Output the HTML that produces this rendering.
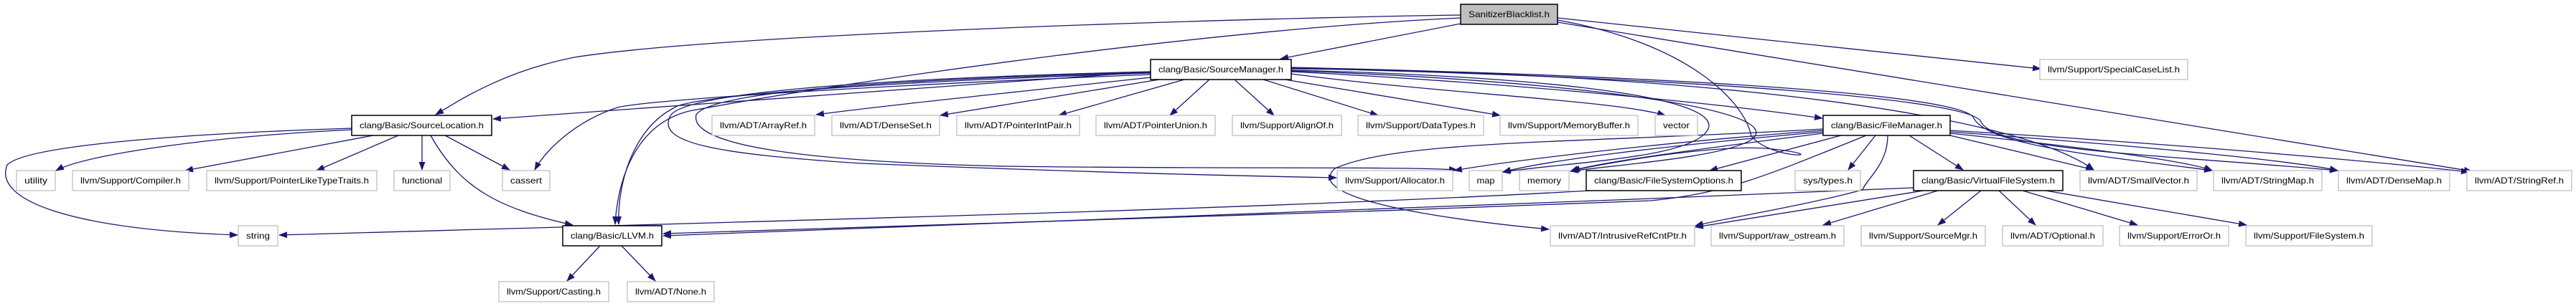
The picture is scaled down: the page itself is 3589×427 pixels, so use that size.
<!DOCTYPE html>
<html><head><meta charset="utf-8"><style>
html,body{margin:0;padding:0;background:#fff;}
svg{display:block;}
text{font-family:"Liberation Sans",Arial,sans-serif;font-size:12px;fill:#000;}
.e{fill:none;stroke:#191970;stroke-width:1.3;marker-end:url(#a);}
.n{fill:#fff;stroke:#bfbfbf;stroke-width:1.3;}
.b{fill:#fff;stroke:#000;stroke-width:1.5;}
</style></head><body>
<svg width="3589" height="427" viewBox="0 0 3589 427" xmlns="http://www.w3.org/2000/svg">
<defs><marker id="a" markerWidth="12" markerHeight="10" refX="11" refY="4.5" orient="auto" markerUnits="userSpaceOnUse"><polygon points="0,0 12,4.5 0,9" fill="#191970"/></marker></defs>
<!-- edges -->
<path class="e" d="M2035,21 C1700,26 1000,48 800,80 C700,100 640,140 607,160"/>
<path class="e" d="M2035,25 C1700,40 1200,110 960,155 C880,175 860,260 857,313"/>
<path class="e" d="M2035,33 L1784,82"/>
<path class="e" d="M2170,25 L2843,96"/>
<path class="e" d="M2170,31 L3444,239"/>
<path class="e" d="M2170,28 C2350,60 2430,140 2440,190 C2470,225 2560,218 2470,208 C2400,200 2250,225 2190,238"/>
<path class="e" d="M1603,100 L687,166"/>
<path class="e" d="M1603,108 C1450,125 1250,145 1137,160"/>
<path class="e" d="M1615,111 L1310,161"/>
<path class="e" d="M1650,111 L1475,161"/>
<path class="e" d="M1685,111 L1630,161"/>
<path class="e" d="M1720,111 L1775,161"/>
<path class="e" d="M1760,111 L1920,161"/>
<path class="e" d="M1790,111 L2090,161"/>
<path class="e" d="M1799,103 C2000,130 2250,140 2320,161"/>
<path class="e" d="M1799,100 C2100,115 2400,145 2539,165"/>
<path class="e" d="M1603,104 C1200,120 900,140 860,150 C800,170 760,210 745,237"/>
<path class="e" d="M1603,102 C1200,115 960,135 940,150 C880,180 860,260 862,313"/>
<path class="e" d="M1603,100 C1200,110 960,130 935,160 C910,200 1000,215 1200,228 C1500,240 1700,245 1862,248"/>
<path class="e" d="M1603,101 C1200,112 990,130 970,160 C960,200 1100,225 1400,232 C1700,236 1950,232 2030,237"/>
<path class="e" d="M1799,98 C2100,105 2400,130 2380,180 C2360,220 2200,225 2093,240"/>
<path class="e" d="M1799,99 C2150,110 2500,150 2440,195 C2400,220 2250,230 2188,239"/>
<path class="e" d="M2540,180 C2200,200 1950,195 1860,235 C1820,270 1950,300 2158,320"/>
<path class="e" d="M1799,96 C2300,100 2800,150 2917,237"/>
<path class="e" d="M1799,95 C2400,110 2750,140 2760,170 C2780,210 3000,215 3257,238"/>
<path class="e" d="M1799,94 C2400,108 2740,135 2750,165 C2770,205 2950,220 3082,238"/>
<path class="e" d="M490,181 C300,190 120,215 78,238"/>
<path class="e" d="M490,179 C300,185 40,200 10,230 C-10,280 100,320 331,328"/>
<path class="e" d="M520,189 L258,238"/>
<path class="e" d="M555,189 L441,238"/>
<path class="e" d="M588,189 L588,237"/>
<path class="e" d="M620,189 L710,237"/>
<path class="e" d="M600,189 C640,260 690,290 798,314"/>
<path class="e" d="M836,343 L790,392"/>
<path class="e" d="M866,343 L913,392"/>
<path class="e" d="M2215,266 C1800,290 1200,305 389,328"/>
<path class="e" d="M2666,262 C2000,290 1200,320 924,329"/>
<path class="e" d="M2600,189 C2450,250 2400,270 2300,280 C1800,300 1200,318 924,326"/>
<path class="e" d="M2540,182 C2300,200 2100,225 2026,238"/>
<path class="e" d="M2540,184 C2300,205 2150,225 2094,240"/>
<path class="e" d="M2540,186 C2350,210 2220,228 2188,239"/>
<path class="e" d="M2565,189 L2382,238"/>
<path class="e" d="M2613,189 L2575,237"/>
<path class="e" d="M2660,189 L2735,237"/>
<path class="e" d="M2630,189 C2630,230 2600,250 2595,265 C2500,290 2400,305 2362,315"/>
<path class="e" d="M2717,189 L2917,237"/>
<path class="e" d="M2717,186 C2900,205 3050,225 3082,238"/>
<path class="e" d="M2717,184 C3000,205 3200,225 3257,238"/>
<path class="e" d="M2717,182 C3100,205 3350,230 3440,240"/>
<path class="e" d="M2680,266 L2362,317"/>
<path class="e" d="M2700,266 L2540,314"/>
<path class="e" d="M2760,266 L2700,314"/>
<path class="e" d="M2785,266 L2836,314"/>
<path class="e" d="M2818,266 L2978,314"/>
<path class="e" d="M2850,266 L3130,314"/>
<!-- nodes -->
<g>
<rect x="2035" y="6" width="135" height="28" fill="#bfbfbf" stroke="#000" stroke-width="1.5"/><text x="2102.5" y="24" text-anchor="middle" textLength="113" lengthAdjust="spacingAndGlyphs">SanitizerBlacklist.h</text>
<rect class="b" x="1603" y="83" width="196" height="28"/><text x="1701" y="101" text-anchor="middle" textLength="174" lengthAdjust="spacingAndGlyphs">clang/Basic/SourceManager.h</text>
<rect class="n" x="2842" y="83" width="206" height="28"/><text x="2945" y="101" text-anchor="middle" textLength="184" lengthAdjust="spacingAndGlyphs">llvm/Support/SpecialCaseList.h</text>
<rect class="b" x="490" y="161" width="195" height="28"/><text x="587.5" y="179" text-anchor="middle" textLength="173" lengthAdjust="spacingAndGlyphs">clang/Basic/SourceLocation.h</text>
<rect class="n" x="992" y="161" width="143" height="28"/><text x="1063.5" y="179" text-anchor="middle" textLength="121" lengthAdjust="spacingAndGlyphs">llvm/ADT/ArrayRef.h</text>
<rect class="n" x="1159" y="161" width="150" height="28"/><text x="1234" y="179" text-anchor="middle" textLength="128" lengthAdjust="spacingAndGlyphs">llvm/ADT/DenseSet.h</text>
<rect class="n" x="1333" y="161" width="171" height="28"/><text x="1418.5" y="179" text-anchor="middle" textLength="149" lengthAdjust="spacingAndGlyphs">llvm/ADT/PointerIntPair.h</text>
<rect class="n" x="1527" y="161" width="166" height="28"/><text x="1610" y="179" text-anchor="middle" textLength="144" lengthAdjust="spacingAndGlyphs">llvm/ADT/PointerUnion.h</text>
<rect class="n" x="1717" y="161" width="152" height="28"/><text x="1793" y="179" text-anchor="middle" textLength="130" lengthAdjust="spacingAndGlyphs">llvm/Support/AlignOf.h</text>
<rect class="n" x="1892" y="161" width="175" height="28"/><text x="1979.5" y="179" text-anchor="middle" textLength="153" lengthAdjust="spacingAndGlyphs">llvm/Support/DataTypes.h</text>
<rect class="n" x="2090" y="161" width="192" height="28"/><text x="2186" y="179" text-anchor="middle" textLength="170" lengthAdjust="spacingAndGlyphs">llvm/Support/MemoryBuffer.h</text>
<rect class="n" x="2306" y="161" width="59" height="28"/><text x="2335.5" y="179" text-anchor="middle" textLength="37" lengthAdjust="spacingAndGlyphs">vector</text>
<rect class="b" x="2540" y="161" width="177" height="28"/><text x="2628.5" y="179" text-anchor="middle" textLength="155" lengthAdjust="spacingAndGlyphs">clang/Basic/FileManager.h</text>
<rect class="n" x="23" y="238" width="54" height="28"/><text x="50" y="256" text-anchor="middle" textLength="32" lengthAdjust="spacingAndGlyphs">utility</text>
<rect class="n" x="101" y="238" width="162" height="28"/><text x="182" y="256" text-anchor="middle" textLength="140" lengthAdjust="spacingAndGlyphs">llvm/Support/Compiler.h</text>
<rect class="n" x="288" y="238" width="237" height="28"/><text x="406.5" y="256" text-anchor="middle" textLength="215" lengthAdjust="spacingAndGlyphs">llvm/Support/PointerLikeTypeTraits.h</text>
<rect class="n" x="549" y="238" width="78" height="28"/><text x="588" y="256" text-anchor="middle" textLength="56" lengthAdjust="spacingAndGlyphs">functional</text>
<rect class="n" x="700" y="238" width="66" height="28"/><text x="733" y="256" text-anchor="middle" textLength="44" lengthAdjust="spacingAndGlyphs">cassert</text>
<rect class="n" x="1863" y="238" width="161" height="28"/><text x="1943.5" y="256" text-anchor="middle" textLength="139" lengthAdjust="spacingAndGlyphs">llvm/Support/Allocator.h</text>
<rect class="n" x="2047" y="238" width="46" height="28"/><text x="2070" y="256" text-anchor="middle" textLength="25" lengthAdjust="spacingAndGlyphs">map</text>
<rect class="n" x="2117" y="238" width="69" height="28"/><text x="2151.5" y="256" text-anchor="middle" textLength="47" lengthAdjust="spacingAndGlyphs">memory</text>
<rect class="b" x="2210" y="238" width="216" height="28"/><text x="2318" y="256" text-anchor="middle" textLength="194" lengthAdjust="spacingAndGlyphs">clang/Basic/FileSystemOptions.h</text>
<rect class="n" x="2501" y="238" width="91" height="28"/><text x="2546.5" y="256" text-anchor="middle" textLength="69" lengthAdjust="spacingAndGlyphs">sys/types.h</text>
<rect class="b" x="2666" y="238" width="208" height="28"/><text x="2770" y="256" text-anchor="middle" textLength="186" lengthAdjust="spacingAndGlyphs">clang/Basic/VirtualFileSystem.h</text>
<rect class="n" x="2898" y="238" width="163" height="28"/><text x="2979.5" y="256" text-anchor="middle" textLength="141" lengthAdjust="spacingAndGlyphs">llvm/ADT/SmallVector.h</text>
<rect class="n" x="3084" y="238" width="151" height="28"/><text x="3159.5" y="256" text-anchor="middle" textLength="129" lengthAdjust="spacingAndGlyphs">llvm/ADT/StringMap.h</text>
<rect class="n" x="3258" y="238" width="155" height="28"/><text x="3335.5" y="256" text-anchor="middle" textLength="133" lengthAdjust="spacingAndGlyphs">llvm/ADT/DenseMap.h</text>
<rect class="n" x="3437" y="238" width="146" height="28"/><text x="3510" y="256" text-anchor="middle" textLength="124" lengthAdjust="spacingAndGlyphs">llvm/ADT/StringRef.h</text>
<rect class="n" x="332" y="315" width="55" height="28"/><text x="359.5" y="333" text-anchor="middle" textLength="33" lengthAdjust="spacingAndGlyphs">string</text>
<rect class="b" x="784" y="315" width="138" height="28"/><text x="853" y="333" text-anchor="middle" textLength="116" lengthAdjust="spacingAndGlyphs">clang/Basic/LLVM.h</text>
<rect class="n" x="2160" y="315" width="201" height="28"/><text x="2260.5" y="333" text-anchor="middle" textLength="179" lengthAdjust="spacingAndGlyphs">llvm/ADT/IntrusiveRefCntPtr.h</text>
<rect class="n" x="2384" y="315" width="185" height="28"/><text x="2476.5" y="333" text-anchor="middle" textLength="163" lengthAdjust="spacingAndGlyphs">llvm/Support/raw_ostream.h</text>
<rect class="n" x="2593" y="315" width="173" height="28"/><text x="2679.5" y="333" text-anchor="middle" textLength="151" lengthAdjust="spacingAndGlyphs">llvm/Support/SourceMgr.h</text>
<rect class="n" x="2790" y="315" width="140" height="28"/><text x="2860" y="333" text-anchor="middle" textLength="118" lengthAdjust="spacingAndGlyphs">llvm/ADT/Optional.h</text>
<rect class="n" x="2953" y="315" width="152" height="28"/><text x="3029" y="333" text-anchor="middle" textLength="130" lengthAdjust="spacingAndGlyphs">llvm/Support/ErrorOr.h</text>
<rect class="n" x="3129" y="315" width="176" height="28"/><text x="3217" y="333" text-anchor="middle" textLength="154" lengthAdjust="spacingAndGlyphs">llvm/Support/FileSystem.h</text>
<rect class="n" x="695" y="393" width="153" height="28"/><text x="771.5" y="411" text-anchor="middle" textLength="131" lengthAdjust="spacingAndGlyphs">llvm/Support/Casting.h</text>
<rect class="n" x="874" y="393" width="121" height="28"/><text x="934.5" y="411" text-anchor="middle" textLength="99" lengthAdjust="spacingAndGlyphs">llvm/ADT/None.h</text>
</g>
</svg>
</body></html>
